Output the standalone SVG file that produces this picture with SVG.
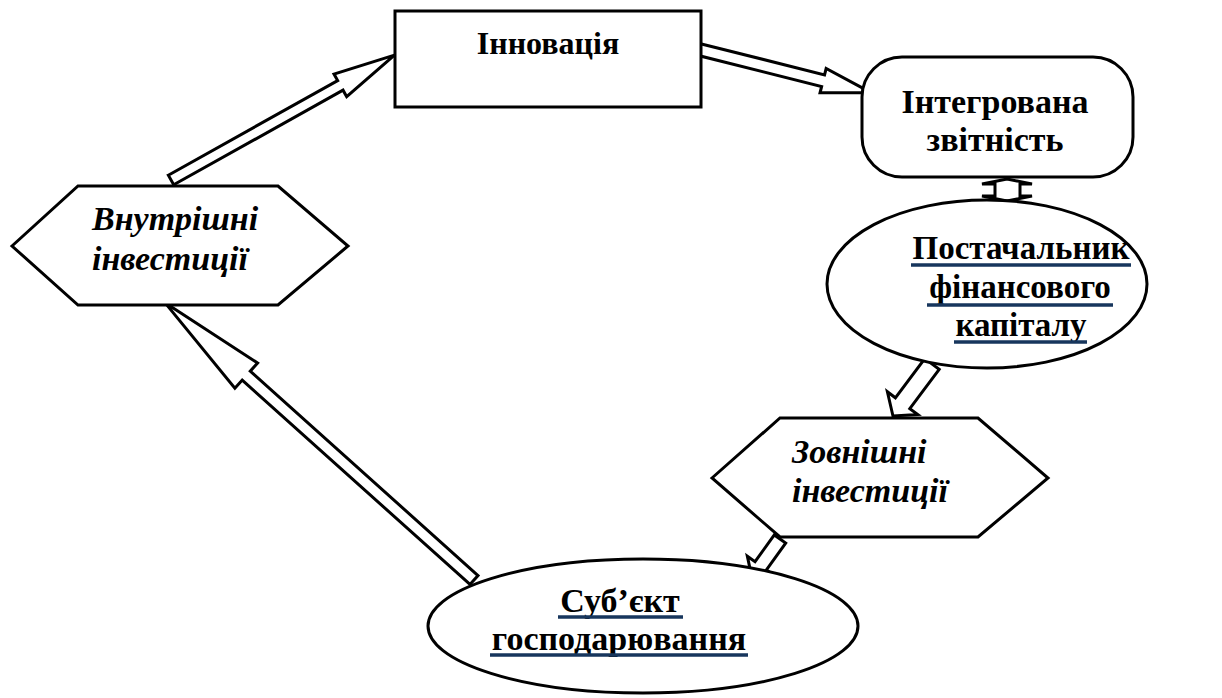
<svg xmlns="http://www.w3.org/2000/svg" width="1222" height="698" viewBox="0 0 1222 698">
  <style>
    .shape { fill: #ffffff; stroke: #000000; stroke-width: 3; }
    .arrow { fill: #ffffff; stroke: #000000; stroke-width: 3; stroke-linejoin: miter; }
    .lbl { font-family: "Liberation Serif", "Times New Roman", serif; font-weight: bold; font-size: 34px; fill: #000000; }
    .it { font-style: italic; }
    .ul { stroke: #17365d; stroke-width: 3.5; }
  </style>
  <rect width="1222" height="698" fill="#ffffff"/>

  <!-- block-arrow connectors: local frame, x runs from tail (0) to tip -->
  <g id="connectors">
    <!-- Внутрішні інвестиції -> Інновація -->
    <polygon class="arrow" transform="translate(171,180) rotate(-29.2)" points="0,-5.5 194,-5.5 194,-13 256,0 194,13 194,5.5 0,5.5"/>
    <!-- Інновація -> Інтегрована звітність -->
    <polygon class="arrow" transform="translate(697,49) rotate(14.1)" points="0,-6 130,-6 130,-12.5 180,0 130,12.5 130,6 0,6"/>
    <!-- Інтегрована звітність <-> Постачальник фінансового капіталу -->
    <polygon class="arrow" points="1007,179 1032,184 1020,184 1020,196 1032,196 1007,201 982,196 995,196 995,184 982,184"/>
    <!-- Постачальник фінансового капіталу -> Зовнішні інвестиції -->
    <polygon class="arrow" transform="translate(932,364) rotate(126.9)" points="0,-9 49,-9 49,-19 65,0 49,19 49,9 0,9"/>
    <!-- Зовнішні інвестиції -> Суб'єкт господарювання -->
    <polygon class="arrow" transform="translate(780,539) rotate(125.7)" points="0,-7 33,-7 33,-16.5 48,0 33,16.5 33,7 0,7"/>
    <!-- Суб'єкт господарювання -> Внутрішні інвестиції -->
    <polygon class="arrow" transform="translate(474,580) rotate(221.9)" points="0,-6 306,-6 306,-17 415,0 306,17 306,6 0,6"/>
  </g>

  <g id="node-innovation">
    <rect class="shape" x="395" y="11" width="306" height="96"/>
    <text class="lbl" x="548" y="54" text-anchor="middle" style="font-size:32px">Інновація</text>
  </g>

  <g id="node-integrated-reporting">
    <rect class="shape" x="862" y="57" width="271" height="120" rx="40" ry="40"/>
    <text class="lbl" x="995" y="113" text-anchor="middle">Інтегрована</text>
    <text class="lbl" x="995" y="151" text-anchor="middle">звітність</text>
  </g>

  <g id="node-capital-provider">
    <ellipse class="shape" cx="987" cy="284" rx="160" ry="84"/>
    <text class="lbl" x="1021" y="259" text-anchor="middle" style="font-size:33px">Постачальник</text>
    <text class="lbl" x="1020" y="298" text-anchor="middle" style="font-size:33px">фінансового</text>
    <text class="lbl" x="1021" y="336" text-anchor="middle" style="font-size:33px">капіталу</text>
    <line class="ul" x1="911" y1="265" x2="1131" y2="265"/>
    <line class="ul" x1="927" y1="305" x2="1113" y2="305"/>
    <line class="ul" x1="954" y1="342" x2="1087" y2="342"/>
  </g>

  <g id="node-external-investment">
    <polygon class="shape" points="712,478 780,418 978,418 1048,478 978,537 780,537"/>
    <text class="lbl it" x="792" y="463">Зовнішні</text>
    <text class="lbl it" x="792" y="502">інвестиції</text>
  </g>

  <g id="node-business-entity">
    <ellipse class="shape" cx="643" cy="626" rx="215" ry="67"/>
    <text class="lbl" x="620" y="612" text-anchor="middle">Суб’єкт</text>
    <text class="lbl" x="619" y="650" text-anchor="middle">господарювання</text>
    <line class="ul" x1="558" y1="617" x2="683" y2="617"/>
    <line class="ul" x1="490" y1="655" x2="748" y2="655"/>
  </g>

  <g id="node-internal-investment">
    <polygon class="shape" points="12,246 78,186 278,186 348,246 278,305 78,305"/>
    <text class="lbl it" x="92" y="230">Внутрішні</text>
    <text class="lbl it" x="92" y="270">інвестиції</text>
  </g>
</svg>
